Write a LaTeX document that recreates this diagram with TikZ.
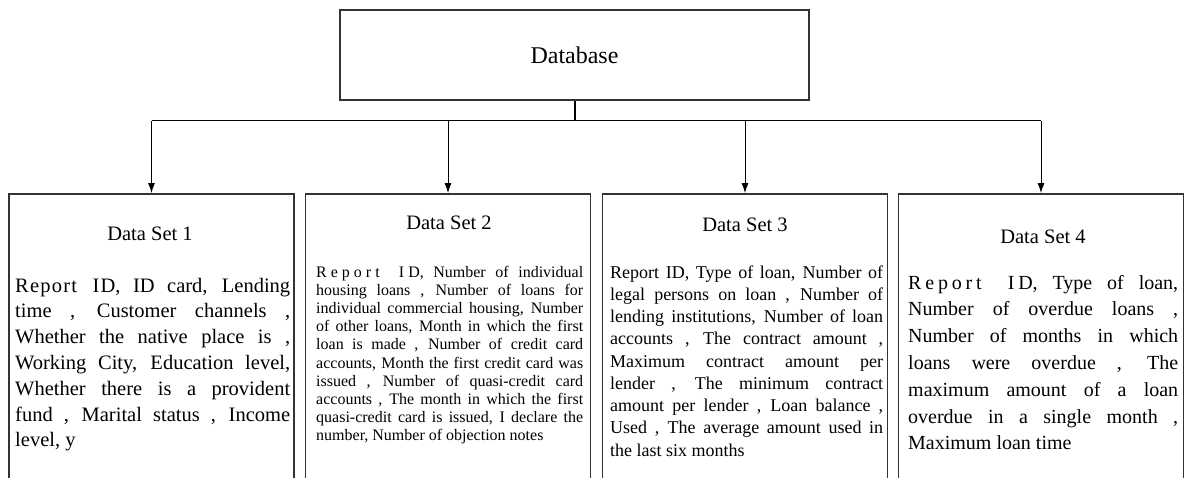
\documentclass[tikz,border=0pt]{standalone}
\usepackage{fontspec}
\setmainfont{Liberation Serif}
\usetikzlibrary{arrows.meta,positioning,calc}

\newcommand{\spaced}[2]{{\addfontfeature{LetterSpace=#1}#2}}
\hyphenpenalty=10000
\exhyphenpenalty=10000

\begin{document}
\begin{tikzpicture}
[x=1pt,y=-1pt,
dbbox/.style={draw=black!80,line width=1.5pt,minimum width=469pt,minimum height=90pt,inner sep=0pt,font=\fontsize{24}{28}\selectfont},
dsbox/.style={draw=black!80,line width=1.5pt,minimum width=285pt,minimum height=330pt,inner sep=0pt,anchor=north},
dstitle/.style={inner sep=0pt,font=\fontsize{20.5}{24}\selectfont},
dstext/.style={anchor=base west,inner sep=0pt,align=justify},
link/.style={line width=.8pt,-{Latex[length=10pt,width=7pt]}}]
\useasboundingbox (0,0) rectangle (1187,477);
\clip (0,0) rectangle (1187,477);

\node[dbbox] (db) at (574.5,55) {Database};
\coordinate (bus) at ($(db.south)+(0,20)$);

\node[dsbox] (ds1) at (151.5,193) {};
\node[dsbox] (ds2) at (448,193) {};
\node[dsbox] (ds3) at (745,193) {};
\node[dsbox] (ds4) at (1041,193) {};

\node[dstitle] (t1) at (150,234) {Data Set 1};
\node[dstitle] (t2) at (449,223) {Data Set 2};
\node[dstitle] (t3) at (745,225) {Data Set 3};
\node[dstitle] (t4) at (1043,237) {Data Set 4};

% field lists
\node[dstext,text width=275pt,font=\fontsize{20.5}{25.8}\selectfont] (f1) at (15,292) {%
\spaced{6}{Report ID}, ID card, Lending\linebreak
time , Customer channels ,\linebreak
Whether the native place is ,\linebreak
Working City, Education level,\linebreak
Whether there is a provident\linebreak
fund , Marital status , Income\linebreak
level, y};
\node[dstext,text width=267pt,font=\fontsize{16}{18.1}\selectfont] (f2) at (316,277.5) {%
\spaced{25}{Report ID}, Number of individual\linebreak
housing loans , Number of loans for\linebreak
individual commercial housing, Number\linebreak
of other loans, Month in which the first\linebreak
loan is made , Number of credit card\linebreak
accounts, Month the first credit card was\linebreak
issued , Number of quasi-credit card\linebreak
accounts , The month in which the first\linebreak
quasi-credit card is issued, I declare the\linebreak
number, Number of objection notes};
\node[dstext,text width=273pt,font=\fontsize{18}{22.25}\selectfont] (f3) at (610,278) {%
Report ID, Type of loan, Number of\linebreak
legal persons on loan , Number of\linebreak
lending institutions, Number of loan\linebreak
accounts , The contract amount ,\linebreak
Maximum contract amount per\linebreak
lender , The minimum contract\linebreak
amount per lender , Loan balance ,\linebreak
Used , The average amount used in\linebreak
the last six months};
\node[dstext,text width=270pt,font=\fontsize{20}{26.8}\selectfont] (f4) at (908,289) {%
\spaced{19}{Report ID}, Type of loan,\linebreak
Number of overdue loans ,\linebreak
Number of months in which\linebreak
loans were overdue , The\linebreak
maximum amount of a loan\linebreak
overdue in a single month ,\linebreak
Maximum loan time};

% connectors
\draw[line width=2pt] (db.south) -- (bus);
\draw[line width=1pt] (ds1.north |- bus) -- (ds4.north |- bus);
\foreach \i in {1,...,4}
  \draw[link] (ds\i.north |- bus) -- (ds\i.north);
\end{tikzpicture}
\end{document}
